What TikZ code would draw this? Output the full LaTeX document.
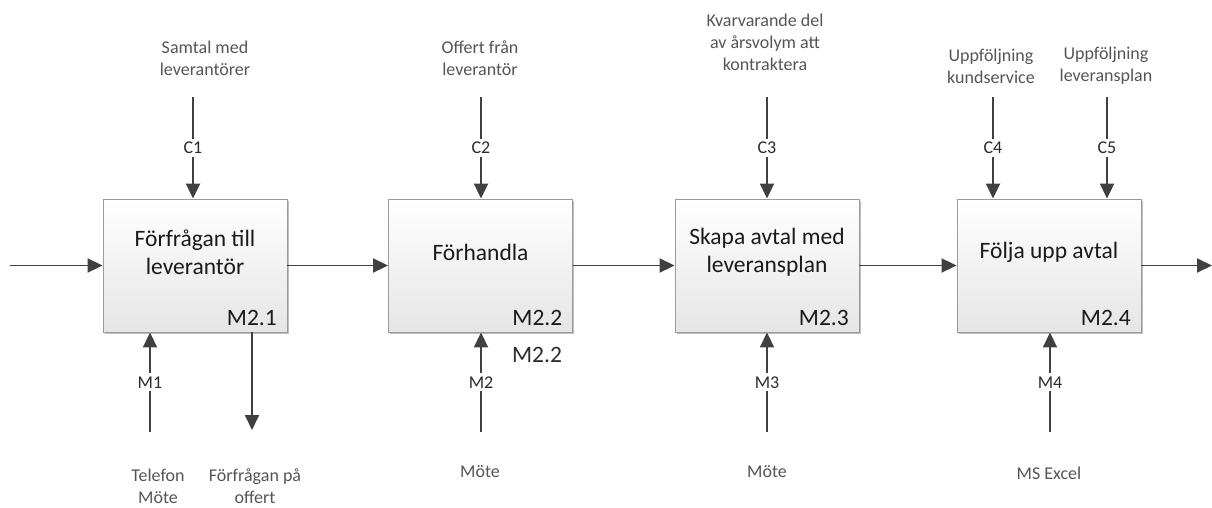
\documentclass[tikz,border=0pt]{standalone}
\usepackage{fontspec}
\setmainfont{Carlito}
\usetikzlibrary{arrows.meta,shadows}
\definecolor{linecol}{HTML}{404040}
\definecolor{boxedge}{HTML}{9A9A9A}
\definecolor{noteclr}{HTML}{555555}
\definecolor{tagclr}{HTML}{2B2B2B}
\definecolor{titleclr}{HTML}{1A1A1A}
\begin{document}
\begin{tikzpicture}[x=1pt,y=-1pt,
  proc/.style={draw=boxedge, line width=0.9pt, rectangle,
    minimum width=184pt, minimum height=133pt, inner sep=0pt,
    top color=white, bottom color=black!10,
    drop shadow={shadow xshift=1.5pt, shadow yshift=-1.5pt, opacity=0.25, fill=black}},
  title/.style={text=titleclr, align=center, inner sep=0pt,
    font=\fontsize{23.5}{28}\selectfont},
  code/.style={text=titleclr, inner sep=0pt, anchor=east,
    font=\fontsize{23.5}{28}\selectfont},
  note/.style={text=noteclr, align=center, inner sep=0pt,
    font=\fontsize{18}{22}\selectfont},
  tag/.style={text=tagclr, fill=white, inner sep=3pt,
    font=\fontsize{18}{22}\selectfont},
  flow/.style={draw=linecol, line width=1.9pt,
    -{Triangle[length=15pt,width=14pt]}},
]
\useasboundingbox (0,0) rectangle (1212,507);

% activity boxes
\node[proc] (b1) at (195,265.5) {};
\node[proc] (b2) at (480.5,265.5) {};
\node[proc] (b3) at (767,265.5) {};
\node[proc] (b4) at (1049,265.5) {};

% box titles
\node[title] (t1) at (195,252) {Förfrågan till\\leverantör};
\node[title] (t2) at (480.5,252) {Förhandla};
\node[title] (t3) at (767,252) {Skapa avtal med\\leveransplan};
\node[title] (t4) at (1049,252) {Följa upp avtal};

% box numbers
\node[code] (n1) at (277,318) {M2.1};
\node[code] (n2) at (562.5,318) {M2.2};
\node[code] (n3) at (849,318) {M2.3};
\node[code] (n4) at (1131,318) {M2.4};
\node[text=tagclr, inner sep=0pt, font=\fontsize{23.5}{28}\selectfont] (n2b) at (537,355) {M2.2};

% main flow
\coordinate (in) at (10,265.5);
\coordinate (out) at (1212,265.5);
\draw[flow] (in) -- (b1.west);
\draw[flow] (b1.east) -- (b2.west);
\draw[flow] (b2.east) -- (b3.west);
\draw[flow] (b3.east) -- (b4.west);
\draw[flow] (b4.east) -- (out);

% controls
\coordinate (c1) at (193,97);
\coordinate (c2) at (481,97);
\coordinate (c3) at (767,97);
\coordinate (c4) at (993,97);
\coordinate (c5) at (1107,97);
\draw[flow] (c1) -- node[tag] {C1} (c1 |- b1.north);
\draw[flow] (c2) -- node[tag] {C2} (c2 |- b2.north);
\draw[flow] (c3) -- node[tag] {C3} (c3 |- b3.north);
\draw[flow] (c4) -- node[tag] {C4} (c4 |- b4.north);
\draw[flow] (c5) -- node[tag] {C5} (c5 |- b4.north);

% mechanisms
\coordinate (m1) at (150,432);
\coordinate (m2) at (481,432);
\coordinate (m3) at (767,432);
\coordinate (m4) at (1050,432);
\draw[flow] (m1) -- node[tag] {M1} (m1 |- b1.south);
\draw[flow] (m2) -- node[tag] {M2} (m2 |- b2.south);
\draw[flow] (m3) -- node[tag] {M3} (m3 |- b3.south);
\draw[flow] (m4) -- node[tag] {M4} (m4 |- b4.south);

% output of the first activity
\coordinate (o1) at (252,430);
\draw[flow] (o1 |- b1.south) -- (o1);

% control notes
\node[note] (k1) at (205,58) {Samtal med\\leverantörer};
\node[note] (k2) at (480,58) {Offert från\\leverantör};
\node[note] (k3) at (765,42) {Kvarvarande del\\av årsvolym att\\kontraktera};
\node[note] (k4) at (991,66) {Uppföljning\\kundservice};
\node[note] (k5) at (1106,66) {Uppföljning\\leveransplan};

% mechanism and output notes
\node[note] (r1) at (158,486) {Telefon\\Möte};
\node[note] (r2) at (255,486) {Förfrågan på\\offert};
\node[note] (r3) at (480,472) {Möte};
\node[note] (r4) at (767,472) {Möte};
\node[note] (r5) at (1049,473) {MS Excel};
\end{tikzpicture}
\end{document}
